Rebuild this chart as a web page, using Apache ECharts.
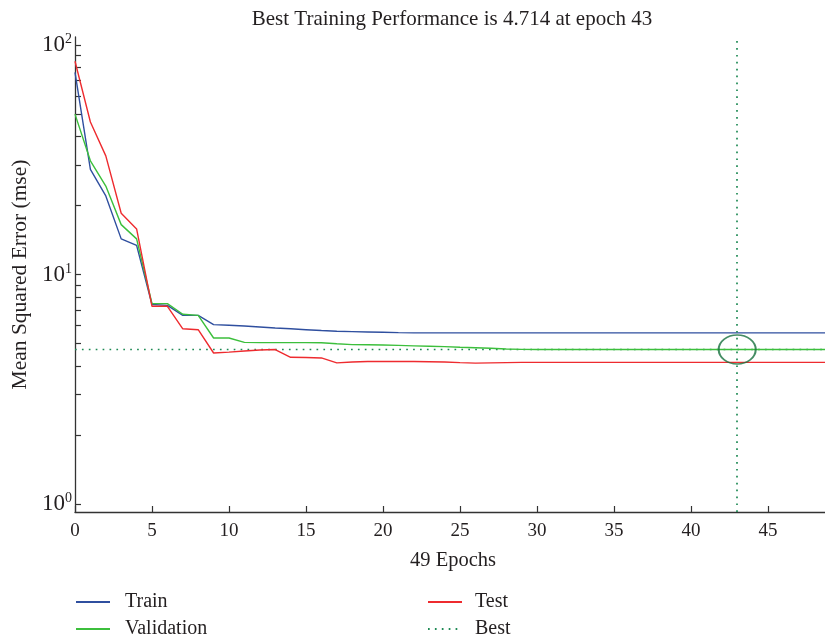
<!DOCTYPE html>
<html>
<head>
<meta charset="utf-8">
<script src="https://cdn.jsdelivr.net/npm/echarts@6/dist/echarts.min.js"></script>
<style>
  html, body { margin: 0; padding: 0; background: #fff; }
  #chart { width: 825px; height: 639px; }
</style>
</head>
<body>
<div id="chart"></div>
<script>
// Mean squared error per training epoch (0..49)
const trainMse = [76, 28.7, 22.0, 14.3, 13.4, 7.40, 7.34, 6.64, 6.64, 6.05,
  6.01, 5.97, 5.91, 5.85, 5.80, 5.75, 5.70, 5.66, 5.64, 5.62,
  5.60, 5.58, 5.57, 5.57, 5.57, 5.57, 5.57, 5.57, 5.57, 5.57,
  5.57, 5.57, 5.57, 5.57, 5.57, 5.57, 5.57, 5.57, 5.57, 5.57,
  5.57, 5.57, 5.57, 5.57, 5.57, 5.57, 5.57, 5.57, 5.57, 5.57];
const validationMse = [50.0, 31.3, 24.3, 16.5, 14.3, 7.47, 7.47, 6.71, 6.64, 5.29,
  5.29, 5.06, 5.05, 5.05, 5.05, 5.05, 5.04, 4.99, 4.95, 4.94,
  4.93, 4.91, 4.89, 4.87, 4.85, 4.82, 4.80, 4.77, 4.74, 4.72,
  4.716, 4.716, 4.715, 4.715, 4.715, 4.715, 4.715, 4.715, 4.715, 4.715,
  4.715, 4.715, 4.715, 4.714, 4.715, 4.715, 4.715, 4.715, 4.715, 4.715];
const testMse = [85, 46.2, 32.9, 18.5, 15.8, 7.27, 7.27, 5.80, 5.75, 4.55,
  4.59, 4.64, 4.69, 4.71, 4.36, 4.35, 4.33, 4.12, 4.16, 4.18,
  4.18, 4.18, 4.18, 4.17, 4.16, 4.13, 4.11, 4.12, 4.13, 4.14,
  4.14, 4.14, 4.14, 4.14, 4.14, 4.14, 4.14, 4.14, 4.14, 4.14,
  4.14, 4.14, 4.14, 4.14, 4.14, 4.14, 4.14, 4.14, 4.14, 4.14];
const bestEpoch = 43;
const bestPerf = 4.714;
const lastEpoch = 49;

const xTicks = [0, 5, 10, 15, 20, 25, 30, 35, 40, 45];
const yLabelValues = [1, 10, 100];
const yLabelExponents = ['0', '1', '2'];
const yMinorTicks = [1, 2, 3, 4, 5, 6, 7, 8, 9, 10, 20, 30, 40, 50, 60, 70, 80, 90, 100];

const serif = '"Liberation Serif", "DejaVu Serif", serif';
const ink = '#231f20';
const colors = { Train: '#2f4f9f', Validation: '#3cbf3c', Test: '#ee2b2f', Best: '#1f8a55' };

const toPairs = arr => arr.map((v, i) => [i, v]);

// one legend block per entry so the two columns line up
const legendEntry = (name, left, top, gap) => ({
  data: [name], left: left, top: top, padding: 0,
  itemWidth: 34, itemHeight: 14,
  itemStyle: { opacity: 0 },
  textStyle: { fontFamily: serif, fontSize: 20, color: ink, padding: [0, 0, 0, gap] }
});

const chart = echarts.init(document.getElementById('chart'), null, { renderer: 'canvas' });

chart.setOption({
  backgroundColor: '#ffffff',
  animation: false,
  title: {
    text: 'Best Training Performance is ' + bestPerf + ' at epoch ' + bestEpoch,
    left: 447, top: 4, textAlign: 'center',
    textStyle: { fontFamily: serif, fontSize: 21, fontWeight: 'normal', color: ink }
  },
  legend: [
    legendEntry('Train', 75, 592, 10),
    legendEntry('Validation', 75, 619, 10),
    legendEntry('Test', 427, 592, 8),
    legendEntry('Best', 427, 619, 8)
  ],
  grid: { left: 75, top: 37, right: 0, bottom: 127, containLabel: false },
  xAxis: {
    type: 'value', min: 0, max: 48.7,
    name: lastEpoch + ' Epochs', nameLocation: 'middle', nameGap: 38,
    nameTextStyle: { fontFamily: serif, fontSize: 20.5, color: ink, padding: [0, 0, 0, 6] },
    axisLine: { onZero: false, lineStyle: { color: '#333', width: 1.3 } },
    axisTick: { inside: true, length: 6, customValues: xTicks, lineStyle: { color: '#333', width: 1.2 } },
    axisLabel: { customValues: xTicks, margin: 10, fontFamily: serif, fontSize: 19, color: ink },
    splitLine: { show: false }
  },
  yAxis: {
    type: 'log', logBase: 10, min: 0.923, max: 108.4,
    name: 'Mean Squared Error (mse)', nameLocation: 'middle', nameGap: 43,
    nameTextStyle: { fontFamily: serif, fontSize: 21.5, color: ink },
    axisLine: { show: true, lineStyle: { color: '#333', width: 1.3 } },
    axisTick: { show: true, inside: true, length: 6, customValues: yMinorTicks, lineStyle: { color: '#333', width: 1.2 } },
    axisLabel: {
      customValues: yLabelValues, margin: 3,
      formatter: v => {
        const i = yLabelValues.findIndex(t => Math.abs(t - v) / t < 1e-6);
        return i < 0 ? '' : '{b|10}{s|' + yLabelExponents[i] + '}';
      },
      rich: {
        b: { fontFamily: serif, fontSize: 23, color: ink },
        s: { fontFamily: serif, fontSize: 14, color: ink, padding: [0, 0, 11, 0] }
      }
    },
    splitLine: { show: false }
  },
  series: [
    {
      name: 'Train', type: 'line', data: toPairs(trainMse), symbol: 'none',
      lineStyle: { color: colors.Train, width: 1.4 }, itemStyle: { color: colors.Train }, z: 3
    },
    {
      name: 'Validation', type: 'line', data: toPairs(validationMse), symbol: 'none',
      lineStyle: { color: colors.Validation, width: 1.4 }, itemStyle: { color: colors.Validation }, z: 3
    },
    {
      name: 'Test', type: 'line', data: toPairs(testMse), symbol: 'none',
      lineStyle: { color: colors.Test, width: 1.4 }, itemStyle: { color: colors.Test }, z: 3
    },
    {
      name: 'Best', type: 'line', symbol: 'none',
      data: [[0, bestPerf], [lastEpoch, bestPerf]],
      lineStyle: { color: colors.Best, width: 1.7, type: [1.7, 5.2] },
      itemStyle: { color: colors.Best }, z: 2,
      markLine: {
        silent: true, symbol: 'none', label: { show: false },
        lineStyle: { color: colors.Best, width: 1.7, type: [1.7, 5.2] },
        data: [{ xAxis: bestEpoch }]
      }
    },
    {
      name: 'BestPoint', type: 'scatter', data: [[bestEpoch, bestPerf]],
      symbol: 'circle', symbolSize: [37, 29], z: 4,
      itemStyle: { color: 'rgba(0,0,0,0)', borderColor: '#17703d', borderWidth: 1.8 }
    }
  ]
});
</script>
</body>
</html>
